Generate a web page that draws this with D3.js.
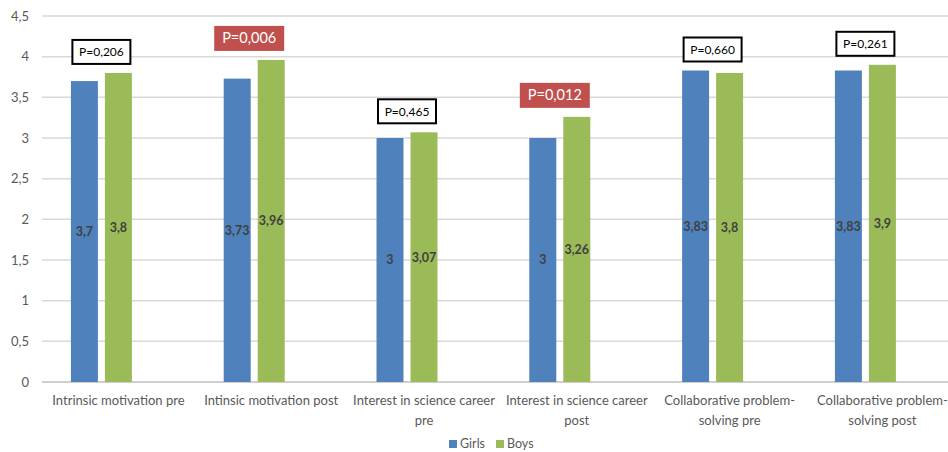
<!DOCTYPE html>
<html><head><meta charset="utf-8">
<script src="https://cdn.jsdelivr.net/npm/d3@7"></script>
<style>body{margin:0;background:#fff;overflow:hidden}svg{display:block}</style>
</head><body>
<svg id="chart" width="948" height="452"></svg>
<script>
const categories = ["Intrinsic motivation pre", "Intinsic motivation post", "Interest in science career pre", "Interest in science career post", "Collaborative problem-solving pre", "Collaborative problem-solving post"];
const seriesNames = ["Girls", "Boys"];
const girls = [3.7, 3.73, 3, 3, 3.83, 3.83];
const boys = [3.8, 3.96, 3.07, 3.26, 3.8, 3.9];
const pValues = ["P=0,206", "P=0,006", "P=0,465", "P=0,012", "P=0,660", "P=0,261"];
const significant = [false, true, false, true, false, false];
const yTicks = [0, 0.5, 1, 1.5, 2, 2.5, 3, 3.5, 4, 4.5];

(function() {
const colors = {Girls: "#4F81BD", Boys: "#9BBB59"};
const FONT = "Lato, 'Open Sans', sans-serif";
const loc = d3.formatLocale({decimal: ",", thousands: ".", grouping: [3], currency: ["", ""]});
const fmt = v => loc.format("~g")(v);

const svg = d3.select("#chart");
const plotLeft = 42, bandW = 152.8, plotTop = 16, plotBottom = 382;
const x = d3.scaleBand().domain(categories).range([plotLeft, plotLeft + bandW * categories.length]).padding(0);
const x1 = d3.scaleBand().domain(["Girls", "Boys", "_empty"]).range([0, x.bandwidth()]).paddingInner(0.206).paddingOuter(0.85);
const y = d3.scaleLinear().domain([0, 4.5]).range([plotBottom, plotTop]);

svg.append("g").selectAll("line").data(yTicks).join("line")
  .attr("x1", plotLeft).attr("x2", 948)
  .attr("y1", d => y(d)).attr("y2", d => y(d))
  .attr("stroke", d => d === 0 ? "#BFBFBF" : "#D9D9D9").attr("stroke-width", 1.5);

svg.append("g").selectAll("text").data(yTicks).join("text")
  .attr("x", 29).attr("y", d => y(d)).attr("dy", "0.35em")
  .attr("text-anchor", "end").attr("font-family", FONT).attr("font-size", 13)
  .attr("fill", "#595959").text(d => fmt(d));

const rows = categories.map((c, i) => ({cat: c, Girls: girls[i], Boys: boys[i], p: pValues[i], sig: significant[i]}));

const groups = svg.append("g").selectAll("g").data(rows).join("g")
  .attr("transform", d => `translate(${x(d.cat)},0)`);

groups.selectAll("rect").data(d => seriesNames.map(s => ({s, v: d[s]}))).join("rect")
  .attr("x", d => x1(d.s)).attr("width", x1.bandwidth())
  .attr("y", d => y(d.v)).attr("height", d => y(0) - y(d.v))
  .attr("fill", d => colors[d.s]);

groups.selectAll("text.val").data(d => seriesNames.map(s => ({s, v: d[s]}))).join("text")
  .attr("class", "val")
  .attr("x", d => x1(d.s) + x1.bandwidth() / 2)
  .attr("y", d => (y(d.v) + y(0)) / 2).attr("dy", "0.35em")
  .attr("text-anchor", "middle").attr("font-family", FONT).attr("font-weight", "bold")
  .attr("font-size", 12.5).attr("fill", "#404040").text(d => fmt(d.v));

groups.each(function(d) {
  const g = d3.select(this);
  const cx = (x1("Girls") + x1("Boys") + x1.bandwidth()) / 2 - (d.sig ? 5 : 0);
  const w = d.sig ? 70 : 58, h = d.sig ? 25 : 24;
  const yb = y(Math.max(d.Girls, d.Boys)) - 9;
  g.append("rect").attr("x", cx - w / 2).attr("y", yb - h).attr("width", w).attr("height", h)
    .attr("fill", d.sig ? "#C0504D" : "#fff")
    .attr("stroke", d.sig ? "none" : "#000").attr("stroke-width", 2);
  g.append("text").attr("x", cx).attr("y", yb - h / 2).attr("dy", "0.35em")
    .attr("text-anchor", "middle").attr("font-family", FONT)
    .attr("font-size", d.sig ? 14.5 : 12).attr("fill", d.sig ? "#fff" : "#000").text(d.p);
});

function wrapTokens(str) {
  const toks = [];
  str.split(" ").forEach((w, i, arr) => {
    const parts = w.split(/(?<=-)/);
    parts.forEach((p, j) => toks.push(p + (j === parts.length - 1 && i < arr.length - 1 ? " " : "")));
  });
  return toks;
}
const maxW = 148;
const labG = svg.append("g");
categories.forEach(c => {
  const cx = x(c) + x.bandwidth() / 2;
  const t = labG.append("text").attr("text-anchor", "middle").attr("font-family", FONT)
    .attr("font-size", 13).attr("fill", "#595959");
  const toks = wrapTokens(c);
  const lines = [];
  let cur = "";
  const meas = labG.append("text").attr("font-family", FONT).attr("font-size", 13);
  toks.forEach(tk => {
    const test = cur + tk;
    meas.text(test.trim());
    if (cur && meas.node().getComputedTextLength() > maxW) { lines.push(cur.trim()); cur = tk; }
    else cur = test;
  });
  lines.push(cur.trim());
  meas.remove();
  lines.forEach((ln, i) => t.append("tspan").attr("x", cx).attr("y", 405 + i * 20).text(ln));
});

const leg = svg.append("g");
const legItems = [{s: "Girls", x: 449}, {s: "Boys", x: 496}];
legItems.forEach(it => {
  leg.append("rect").attr("x", it.x).attr("y", 440).attr("width", 8).attr("height", 8).attr("fill", colors[it.s]);
  leg.append("text").attr("x", it.x + 11).attr("y", 444).attr("dy", "0.35em")
    .attr("font-family", FONT).attr("font-size", 12.5).attr("fill", "#595959").text(it.s);
});
})();
</script>
</body></html>
